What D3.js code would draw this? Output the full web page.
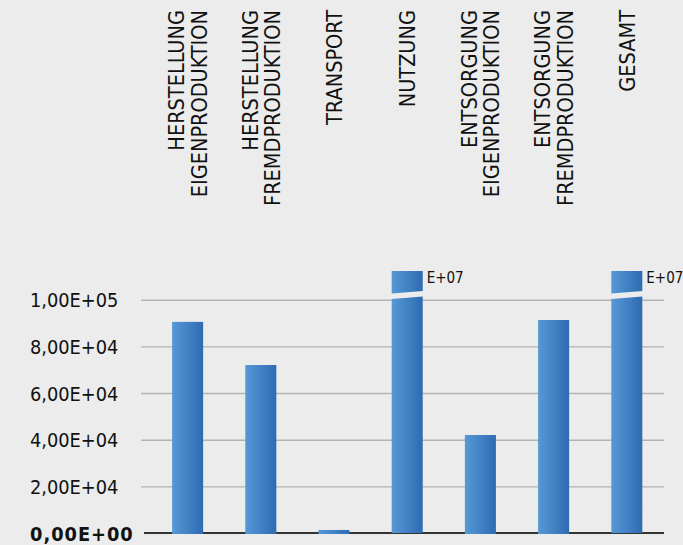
<!DOCTYPE html>
<html>
<head>
<meta charset="utf-8">
<script src="https://cdn.jsdelivr.net/npm/d3@7"></script>
<style>
  html, body { margin: 0; padding: 0; background: #ebeceb; }
  svg { display: block; }
  .lbl { font-family: "DejaVu Sans Condensed", "DejaVu Sans", sans-serif; font-stretch: condensed; fill: #111; }
</style>
</head>
<body>
<svg id="chart" width="683" height="545"></svg>
<script>
// Categories (each entry is a list of label lines) and their values
const categories = [
  ["HERSTELLUNG", "EIGENPRODUKTION"],
  ["HERSTELLUNG", "FREMDPRODUKTION"],
  ["TRANSPORT"],
  ["NUTZUNG"],
  ["ENTSORGUNG", "EIGENPRODUKTION"],
  ["ENTSORGUNG", "FREMDPRODUKTION"],
  ["GESAMT"]
];
const values = [90500, 72000, 1300, 12000000, 42000, 91300, 12300000];
const yTicks = [0, 20000, 40000, 60000, 80000, 100000];

// Axis ceiling; bars beyond it are drawn broken and tagged with their order of magnitude
const axisMax = 100000;
const capValue = 112300;

const W = 683, H = 545;
const svg = d3.select("#chart");
svg.append("rect").attr("width", W).attr("height", H).attr("fill", "#ebeceb");

const defs = svg.append("defs");
const grad = defs.append("linearGradient").attr("id", "barGrad")
  .attr("x1", 0).attr("x2", 1).attr("y1", 0).attr("y2", 0);
grad.append("stop").attr("offset", "0%").attr("stop-color", "#5699d6");
grad.append("stop").attr("offset", "100%").attr("stop-color", "#2e6bb2");

const keys = categories.map((c, i) => "c" + i);
const x = d3.scaleBand().domain(keys).range([151, 663.4])
  .paddingInner(0.576).paddingOuter(0.288);
const y = d3.scaleLinear().domain([0, axisMax]).range([533, 299.7]);

// Gridlines and tick labels
const gx0 = 141, gx1 = 664;
const axis = d3.axisLeft(y).tickValues(yTicks).tickSize(-(gx1 - gx0)).tickPadding(0)
  .tickFormat(v => {
    const [m, e] = v.toExponential(2).split("e");
    const ex = parseInt(e, 10);
    return m.replace(".", ",") + "E" + (ex < 0 ? "-" : "+") + String(Math.abs(ex)).padStart(2, "0");
  });
const ag = svg.append("g").attr("transform", `translate(${gx0},0)`).call(axis);
ag.select(".domain").remove();
ag.selectAll(".tick line").attr("stroke", "#b3b3b3").attr("stroke-width", 1.4);
ag.selectAll(".tick text")
  .attr("class", "lbl")
  .attr("x", 30 - gx0).attr("dy", null).attr("y", 7)
  .attr("text-anchor", "start")
  .style("font-size", "19.8px")
  .style("font-weight", d => d === 0 ? "bold" : "normal")
  .style("letter-spacing", d => d === 0 ? "1px" : null);
ag.selectAll(".tick").filter(d => d === 0).select("line").remove();

// Baseline
svg.append("line").attr("x1", 144).attr("x2", gx1).attr("y1", y(0)).attr("y2", y(0))
  .attr("stroke", "#333").attr("stroke-width", 2);

// Bars
const bw = x.bandwidth();
const data = values.map((v, i) => ({ key: keys[i], v, lines: categories[i] }));
const gap = 5.5, slant = 2.5;
const breakMid = y(102000);

data.forEach(d => {
  const x0 = x(d.key), x1 = x0 + bw;
  if (d.v <= axisMax) {
    svg.append("rect").attr("x", x0).attr("y", y(d.v))
      .attr("width", bw).attr("height", y(0) + 1 - y(d.v))
      .attr("fill", "url(#barGrad)");
  } else {
    const lowL = breakMid + gap / 2 + slant / 2, lowR = breakMid + gap / 2 - slant / 2;
    const upL = breakMid - gap / 2 + slant / 2, upR = breakMid - gap / 2 - slant / 2;
    svg.append("path")
      .attr("d", `M${x0},${y(0)}L${x0},${lowL}L${x1},${lowR}L${x1},${y(0)}Z`)
      .attr("fill", "url(#barGrad)");
    svg.append("path")
      .attr("d", `M${x0},${y(capValue)}L${x1},${y(capValue)}L${x1},${upR}L${x0},${upL}Z`)
      .attr("fill", "url(#barGrad)");
    const exp = Math.floor(Math.log10(d.v));
    svg.append("text").attr("class", "lbl")
      .attr("x", x1 + 4).attr("y", y(capValue) + 11.5)
      .style("font-size", "15px")
      .text("E+" + String(exp).padStart(2, "0"));
  }
});

// Rotated category labels along the top
const lineGap = 22.2;
data.forEach(d => {
  const cx = x(d.key) + bw / 2;
  const n = d.lines.length;
  d.lines.forEach((t, i) => {
    const bx = cx + 7.8 + (i - (n - 1) / 2) * lineGap;
    svg.append("text").attr("class", "lbl")
      .attr("transform", `translate(${bx},10) rotate(-90)`)
      .attr("text-anchor", "end")
      .style("font-size", "21.5px")
      .text(t);
  });
});
</script>
</body>
</html>
